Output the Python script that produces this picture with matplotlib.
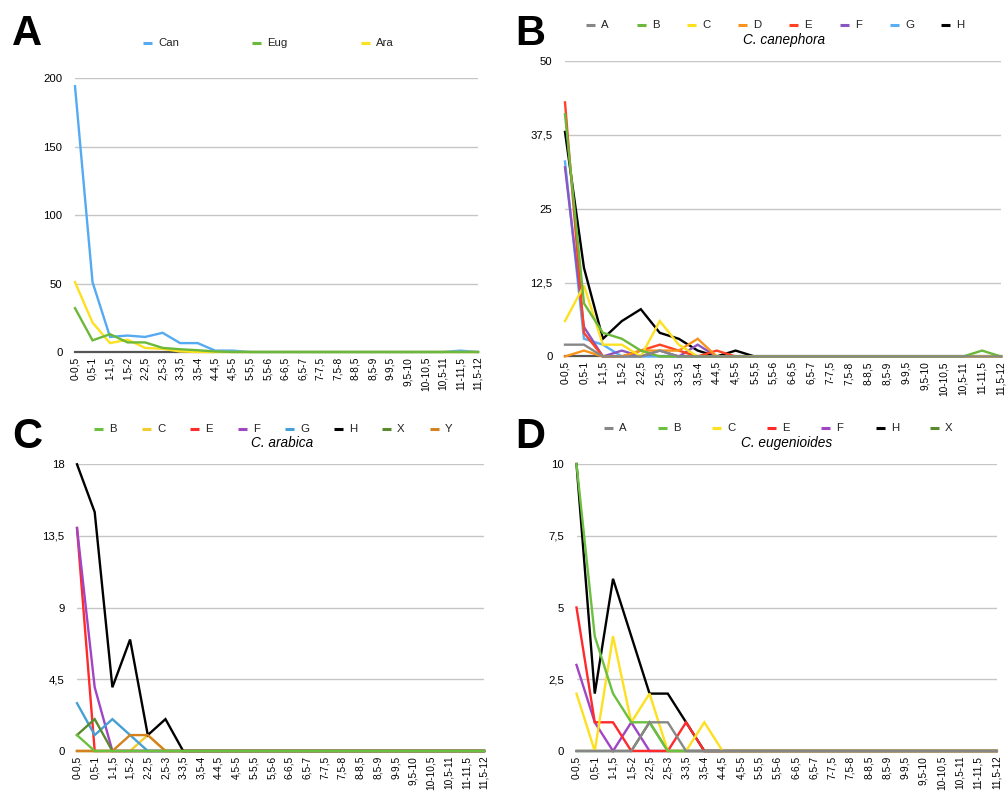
import matplotlib
matplotlib.use("Agg")
import matplotlib.pyplot as plt
from matplotlib.lines import Line2D

plt.rcParams['font.family'] = ['Liberation Sans', 'DejaVu Sans']

# ---------------- data ----------------
categories = ["0-0,5", "0,5-1", "1-1,5", "1,5-2", "2-2,5", "2,5-3", "3-3,5", "3,5-4",
              "4-4,5", "4,5-5", "5-5,5", "5,5-6", "6-6,5", "6,5-7", "7-7,5", "7,5-8",
              "8-8,5", "8,5-9", "9-9,5", "9,5-10", "10-10,5", "10,5-11", "11-11,5", "11,5-12"]

def pad(vals):
    return vals + [0] * (len(categories) - len(vals))

# Panel A
a_can = pad([194, 51, 11, 12, 11, 14, 6.5, 6.5, 1, 1, 0, 0, 0, 0, 0, 0, 0, 0, 0, 0, 0, 0, 1, 0])
a_eug = pad([32, 8.5, 13, 7, 7, 3, 2, 1.3, 0.4])
a_ara = pad([51, 21.5, 6.5, 9, 3, 2.3, 0.4])

# Panel B  (C. canephora)
b_A = pad([2, 2, 0, 0, 0, 1, 0])
b_B = pad([41, 9, 4, 3, 1, 0, 0, 0, 0, 0, 0, 0, 0, 0, 0, 0, 0, 0, 0, 0, 0, 0, 1, 0])
b_C = pad([6, 12, 2, 2, 0, 6, 2, 0])
b_D = pad([0, 1, 0, 0, 1, 1, 1, 3, 0])
b_E = pad([43, 4, 0, 0, 1, 2, 1, 0, 1, 0])
b_F = pad([32, 5, 0, 1, 0, 1, 0, 2, 0])
b_G = pad([33, 3, 2, 0])
b_H = pad([38, 15, 3, 6, 8, 4, 3, 1, 0, 1, 0])

# Panel C  (C. arabica)
c_B = pad([1, 0])
c_C = pad([0, 0, 0, 0, 1, 0])
c_E = pad([14, 0])
c_F = pad([14, 4, 0])
c_G = pad([3, 1, 2, 1, 0])
c_H = pad([18, 15, 4, 7, 1, 2, 0])
c_X = pad([1, 2, 0])
c_Y = pad([0, 0, 0, 1, 1, 0])

# Panel D  (C. eugenioides)
d_A = pad([0, 0, 0, 0, 1, 1, 0])
d_B = pad([10, 4, 2, 1, 1, 0])
d_C = pad([2, 0, 4, 1, 2, 0, 0, 1, 0])
d_E = pad([5, 1, 1, 0, 0, 0, 1, 0])
d_F = pad([3, 1, 0, 1, 0])
d_H = pad([10, 2, 6, 4, 2, 2, 1, 0])
d_X = pad([0, 0, 0, 0, 1, 0])

# ---------------- styling ----------------
W, H = 1006, 791
fig = plt.figure(figsize=(W / 100, H / 100), dpi=100)

def px_axes(left, right, top, bottom):
    return fig.add_axes([left / W, 1 - bottom / H, (right - left) / W, (bottom - top) / H])

def style_axes(ax, yticks, ylabels, ymax):
    x = list(range(len(categories)))
    ax.set_xlim(0, len(categories) - 1)
    ax.set_ylim(0, ymax)
    ax.set_xticks(x)
    ax.set_xticklabels(categories, rotation=90, fontsize=7.3, va='top', ha='center')
    ax.set_yticks(yticks)
    ax.set_yticklabels(ylabels, fontsize=8.2)
    ax.tick_params(axis='both', length=0)
    ax.tick_params(axis='y', pad=9)
    ax.tick_params(axis='x', pad=3.5)
    for s in ax.spines.values():
        s.set_visible(False)
    ax.grid(axis='y', color='#c6c6c6', lw=1.0, zorder=0)
    ax.set_axisbelow(True)
    ax.axhline(0, color='#555555', lw=1.6, zorder=1, clip_on=False)

def legend_px(entries, y, swatch_x):
    for (label, color), sx in zip(entries, swatch_x):
        fig.add_artist(Line2D([sx / W, (sx + 8.5) / W], [1 - y / H, 1 - y / H],
                              color=color, lw=2.2, transform=fig.transFigure,
                              solid_capstyle='butt'))
        fig.text((sx + 15) / W, 1 - y / H, label, fontsize=8.2, va='center', ha='left',
                 color='#222222')

def plot_series(ax, series):
    x = list(range(len(categories)))
    for vals, color in series:
        ax.plot(x, vals, color=color, lw=1.7, zorder=3, clip_on=False,
                solid_joinstyle='miter')

# Panel A
axA = px_axes(75, 478, 78, 352)
style_axes(axA, [0, 50, 100, 150, 200], ["0", "50", "100", "150", "200"], 200)
colA = {'Can': '#55aaf2', 'Eug': '#6cb83a', 'Ara': '#fde01f'}
plot_series(axA, [(a_can, colA['Can']), (a_ara, colA['Ara']), (a_eug, colA['Eug'])])
legend_px([("Can", colA['Can']), ("Eug", colA['Eug']), ("Ara", colA['Ara'])], 43,
          [143, 252, 361])

# Panel B
axB = px_axes(565, 1001, 61, 356.5)
style_axes(axB, [0, 12.5, 25, 37.5, 50], ["0", "12,5", "25", "37,5", "50"], 50)
colB = {'A': '#878787', 'B': '#6cb83a', 'C': '#fde01f', 'D': '#f7941d', 'E': '#ff4222',
        'F': '#8a56c2', 'G': '#5aaef5', 'H': '#000000'}
plot_series(axB, [(b_H, colB['H']), (b_G, colB['G']), (b_F, colB['F']), (b_E, colB['E']),
                  (b_D, colB['D']), (b_C, colB['C']), (b_B, colB['B']), (b_A, colB['A'])])
legend_px([(k, colB[k]) for k in "ABCDEFGH"], 25,
          [586, 637, 687, 738, 789, 840, 890, 941])
fig.text(784 / W, 1 - 40 / H, "C. canephora", fontsize=9.8, style='italic',
         ha='center', va='center')

# Panel C
axC = px_axes(77, 484, 464.3, 751)
style_axes(axC, [0, 4.5, 9, 13.5, 18], ["0", "4,5", "9", "13,5", "18"], 18)
colC = {'B': '#6cc040', 'C': '#f2cc2c', 'E': '#ff2a2a', 'F': '#a045c4', 'G': '#45a0d6',
        'H': '#000000', 'X': '#5b8a2e', 'Y': '#d3821f'}
plot_series(axC, [(c_C, colC['C']), (c_E, colC['E']), (c_F, colC['F']), (c_G, colC['G']),
                  (c_H, colC['H']), (c_X, colC['X']), (c_Y, colC['Y']), (c_B, colC['B'])])
legend_px([(k, colC[k]) for k in "BCEFGHXY"], 429,
          [94, 142, 190, 238, 285, 334, 382, 430])
fig.text(282 / W, 1 - 443 / H, "C. arabica", fontsize=9.8, style='italic',
         ha='center', va='center')

# Panel D
axD = px_axes(576.5, 996.5, 464, 751)
style_axes(axD, [0, 2.5, 5, 7.5, 10], ["0", "2,5", "5", "7,5", "10"], 10)
colD = {'A': '#878787', 'B': '#6cc040', 'C': '#fde01f', 'E': '#ff2a2a', 'F': '#a045c4',
        'H': '#000000', 'X': '#5b8a2e'}
plot_series(axD, [(d_X, colD['X']), (d_H, colD['H']), (d_F, colD['F']), (d_E, colD['E']),
                  (d_C, colD['C']), (d_B, colD['B']), (d_A, colD['A'])])
legend_px([(k, colD[k]) for k in "ABCEFHX"], 428,
          [604, 658, 712, 767, 821, 876, 930])
fig.text(787 / W, 1 - 443 / H, "C. eugenioides", fontsize=9.8, style='italic',
         ha='center', va='center')

# Panel letters
for letter, x, yb in [("A", 12, 45), ("B", 515, 45), ("C", 12, 448), ("D", 515, 448)]:
    fig.text(x / W, 1 - yb / H, letter, fontsize=30, fontweight='bold',
             ha='left', va='baseline')

fig.savefig("out.png", dpi=100)
